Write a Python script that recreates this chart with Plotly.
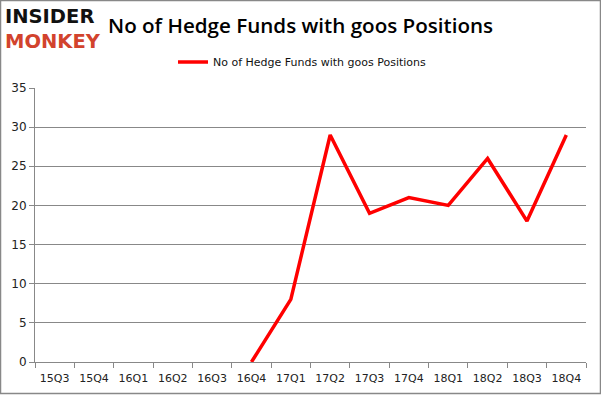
import plotly.graph_objects as go

quarters = ["15Q3", "15Q4", "16Q1", "16Q2", "16Q3", "16Q4", "17Q1", "17Q2",
            "17Q3", "17Q4", "18Q1", "18Q2", "18Q3", "18Q4"]
funds = [None, None, None, None, None, 0, 8, 29, 19, 21, 20, 26, 18, 29]
y_ticks = [0, 5, 10, 15, 20, 25, 30, 35]

W, H = 601, 395
L, R, T, B = 35, 15, 88, 33
pw, ph = W - L - R, H - T - B

fig = go.Figure()
fig.add_trace(go.Scatter(
    x=quarters, y=funds, mode="lines",
    name="No of Hedge Funds with goos Positions",
    line=dict(color="#ff0000", width=3.5),
    connectgaps=False,
))

def px(x):
    return (x - L) / pw

def py(y):
    return (H - B - y) / ph

fig.update_layout(
    width=W, height=H,
    margin=dict(l=L, r=R, t=T, b=B, autoexpand=False),
    paper_bgcolor="white", plot_bgcolor="white",
    font=dict(family="DejaVu Sans", size=11, color="#222222"),
    showlegend=True,
    legend=dict(orientation="h", x=0.5 - 8 / pw, xanchor="center", y=py(62), yanchor="middle",
                font=dict(size=11, color="#111111"), bgcolor="rgba(0,0,0,0)",
                itemwidth=30),
    xaxis=dict(
        type="category", tickson="boundaries", ticks="outside", ticklen=5,
        range=[-0.5, len(quarters) - 0.5],
        tickcolor="#888888", showline=True, linecolor="#888888", linewidth=1,
        showgrid=False, tickfont=dict(size=11, color="#222222"),
        ticklabelstandoff=6,
    ),
    yaxis=dict(
        range=[0, 35], tickvals=y_ticks, ticks="outside", ticklen=5,
        tickcolor="#888888", showline=True, linecolor="#888888", linewidth=1,
        showgrid=True, gridcolor="#888888", gridwidth=1, zeroline=False,
        tickfont=dict(size=12, color="#222222"),
    ),
    annotations=[
        dict(text="No of Hedge Funds with goos Positions", x=px(106), y=py(25),
             xref="paper", yref="paper", xanchor="left", yanchor="middle",
             showarrow=False,
             font=dict(family="Open Sans", size=20.6, color="#000000", weight=600)),
        dict(text="<b>INSIDER</b>", x=px(4), y=py(29), xref="paper", yref="paper",
             xanchor="left", yanchor="bottom", showarrow=False, borderpad=0,
             font=dict(family="DejaVu Sans", size=19.5, color="#111111")),
        dict(text="<b>MONKEY</b>", x=px(4), y=py(29), xref="paper", yref="paper",
             xanchor="left", yanchor="top", showarrow=False, borderpad=0,
             font=dict(family="DejaVu Sans", size=19.5, color="#d2432d")),
    ],
    shapes=[
        dict(type="rect", xref="paper", yref="paper",
             x0=px(0.5), x1=px(W - 0.5), y0=py(H - 1.5), y1=py(0.5),
             line=dict(color="#888888", width=1.5), layer="below"),
    ],
)

fig.write_html("out.html", config={"displayModeBar": False},
               post_script="document.body.style.margin='0px';document.body.style.overflow='hidden';")
